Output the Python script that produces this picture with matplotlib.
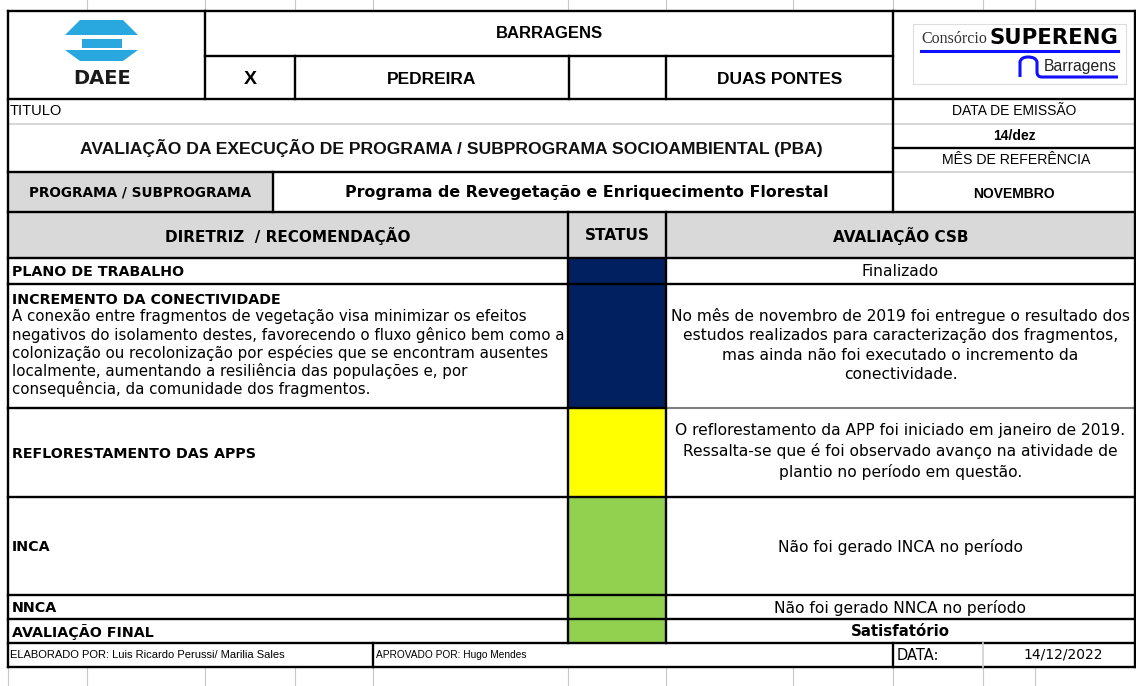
import matplotlib.pyplot as plt
from matplotlib.patches import Rectangle, Polygon
from matplotlib.path import Path
from matplotlib.patches import PathPatch

# ---- form content ----
obra = "BARRAGENS"
opcoes = ["X", "PEDREIRA", "", "DUAS PONTES"]
titulo = "AVALIAÇÃO DA EXECUÇÃO DE PROGRAMA / SUBPROGRAMA SOCIOAMBIENTAL (PBA)"
data_emissao = "14/dez"
mes_ref = "NOVEMBRO"
programa = "Programa de Revegetação e Enriquecimento Florestal"
cabecalho = ["DIRETRIZ  / RECOMENDAÇÃO", "STATUS", "AVALIAÇÃO CSB"]

diretrizes = ["PLANO DE TRABALHO", "INCREMENTO DA CONECTIVIDADE",
              "REFLORESTAMENTO DAS APPS", "INCA", "NNCA", "AVALIAÇÃO FINAL"]
descricao = ["A conexão entre fragmentos de vegetação visa minimizar os efeitos",
             "negativos do isolamento destes, favorecendo o fluxo gênico bem como a",
             "colonização ou recolonização por espécies que se encontram ausentes",
             "localmente, aumentando a resiliência das populações e, por",
             "consequência, da comunidade dos fragmentos."]
status_cores = ["#002060", "#002060", "#ffff00", "#92d050", "#92d050", "#92d050"]
avaliacoes = ["Finalizado",
              "No mês de novembro de 2019 foi entregue o resultado dos\n"
              "estudos realizados para caracterização dos fragmentos,\n"
              "mas ainda não foi executado o incremento da\nconectividade.",
              "O reflorestamento da APP foi iniciado em janeiro de 2019.\n"
              "Ressalta-se que é foi observado avanço na atividade de\n"
              "plantio no período em questão.",
              "Não foi gerado INCA no período",
              "Não foi gerado NNCA no período",
              "Satisfatório"]
elaborado = "ELABORADO POR: Luis Ricardo Perussi/ Marilia Sales"
aprovado = "APROVADO POR: Hugo Mendes"
data_final = "14/12/2022"

# ---- layout (pixels) ----
W, H = 1136, 686
L, R = 8, 1135
rows = [258, 284, 408, 497, 595, 619, 643]
cols = [L, 568, 666, R]
grade_x = [87, 205, 295, 373, 568, 666, 793, 893, 983, 1035]

ARIAL = "Liberation Sans"
VERD = "DejaVu Sans"
LW = 1.7
CINZA = "#d9d9d9"
LINHA_CLARA = "#d0d0d0"

fig = plt.figure(figsize=(W / 100, H / 100), dpi=100)
ax = fig.add_axes([0, 0, 1, 1])
ax.set_xlim(0, W)
ax.set_ylim(H, 0)
ax.axis("off")


def hl(y, x0, x1, c="black", lw=LW):
    ax.plot([x0, x1], [y, y], color=c, lw=lw, solid_capstyle="projecting")


def vl(x, y0, y1, c="black", lw=LW):
    ax.plot([x, x], [y0, y1], color=c, lw=lw, solid_capstyle="projecting")


def box(x0, y0, x1, y1, fc):
    ax.add_patch(Rectangle((x0, y0), x1 - x0, y1 - y0, fc=fc, ec="none"))


# spreadsheet gridlines outside the form
for gx in grade_x:
    vl(gx, 0, 9, c="#c8c8c8", lw=0.8)
    vl(gx, 668, H, c="#c8c8c8", lw=0.8)
vl(L, 668, H, c="#c8c8c8", lw=0.8)

# fills
box(L, 172, 273, 212, CINZA)
box(L, 212, R, 258, CINZA)
for i, c in enumerate(status_cores):
    box(cols[1], rows[i], cols[2], rows[i + 1], c)

# DAEE logo
azul = "#29a8e0"
ax.add_patch(Polygon([(80, 20), (123, 20), (138, 35), (65, 35)], fc=azul, ec="none"))
ax.add_patch(Rectangle((82, 38.5), 40, 9, fc=azul, ec="none"))
ax.add_patch(Polygon([(65, 50), (138, 50), (123, 61), (80, 61)], fc=azul, ec="none"))
ax.text(102, 78, "DAEE", ha="center", va="center", fontsize=14, fontweight="bold",
        family=VERD, color="#1a1a1a")

# SUPERENG logo
ax.add_patch(Rectangle((913, 24), 213, 60, fc="white", ec="#dddddd", lw=0.8))
ax.text(921, 39, "Consórcio", ha="left", va="center", fontsize=11.5, family="Liberation Serif",
        color="#333333")
ax.text(1118, 38, "SUPERENG", ha="right", va="center", fontsize=15.3, fontweight="heavy",
        family=VERD, color="black")
hl(51, 921, 1118, c="#1010ff", lw=2.2)
arco = Path([(1020, 77), (1020, 62), (1021, 57), (1028, 57), (1036, 57), (1037, 62),
             (1037, 72), (1037, 77), (1042, 77), (1118, 77)],
            [Path.MOVETO, Path.LINETO, Path.CURVE3, Path.CURVE3, Path.CURVE3, Path.CURVE3,
             Path.LINETO, Path.CURVE3, Path.CURVE3, Path.LINETO])
ax.add_patch(PathPatch(arco, fc="none", ec="#1010ff", lw=2.2))
ax.text(1117, 66, "Barragens", ha="right", va="center", fontsize=11.3, family=ARIAL,
        color="#222222")

# header lines
hl(11, L, R)
hl(56, 205, 893)
hl(99, L, R)
hl(124, L, R, c=LINHA_CLARA, lw=1.2)
hl(148, 893, R)
hl(172, L, 893)
hl(172, 893, R, c=LINHA_CLARA, lw=1.2)
hl(212, L, R)
vl(205, 11, 99)
vl(295, 56, 99)
vl(569, 56, 99)
vl(666, 56, 99)
vl(893, 11, 212)
vl(273, 172, 212)

# header texts
ax.text(549, 33, obra, ha="center", va="center", fontsize=12, fontweight="bold", family=ARIAL)
op_x = [250, 432, 617, 780]
for x, t in zip(op_x, opcoes):
    ax.text(x, 79, t, ha="center", va="center", fontweight="bold", family=ARIAL,
            fontsize=14 if t == "X" else 12.5)
ax.text(10, 111, "TITULO", ha="left", va="center", fontsize=10.5, family=ARIAL)
ax.text(1014, 111, "DATA DE EMISSÃO", ha="center", va="center", fontsize=10, family=ARIAL)
ax.text(451, 148, titulo, ha="center", va="center", fontsize=12.6, fontweight="bold",
        family=ARIAL, color="#111111")
ax.text(1014, 136, data_emissao, ha="center", va="center", fontsize=10, fontweight="bold",
        family=ARIAL)
ax.text(1016, 160, "MÊS DE REFERÊNCIA", ha="center", va="center", fontsize=10.2, family=ARIAL)
ax.text(140, 193, "PROGRAMA / SUBPROGRAMA", ha="center", va="center", fontsize=9.8,
        fontweight="bold", family=VERD)
ax.text(587, 193, programa, ha="center", va="center", fontsize=11.4, fontweight="bold",
        family=VERD)
ax.text(1014, 194, mes_ref, ha="center", va="center", fontsize=10, fontweight="bold",
        family=ARIAL)

# table header
for i, t in enumerate(cabecalho):
    ax.text((cols[i] + cols[i + 1]) / 2, 236, t, ha="center", va="center", fontsize=11,
            fontweight="bold", family=VERD)

# table rows
for i, nome in enumerate(diretrizes):
    y0, y1 = rows[i], rows[i + 1]
    ym = (y0 + y1) / 2
    if i == 1:
        ax.text(12, 300, nome, ha="left", va="center", fontsize=10.3, fontweight="bold",
                family=VERD)
        for k, linha in enumerate(descricao):
            ax.text(12, 317 + 18 * k, linha, ha="left", va="center", fontsize=10.8,
                    family=VERD)
    else:
        ax.text(12, ym + 1, nome, ha="left", va="center", fontsize=10.3, fontweight="bold",
                family=VERD)
    ultimo = i == len(diretrizes) - 1
    multi = "\n" in avaliacoes[i]
    ax.text((cols[2] + cols[3]) / 2, ym - 1 if multi else ym + 1, avaliacoes[i],
            ha="center", va="center", fontsize=10.8 if ultimo else 11.2, family=VERD,
            linespacing=1.36, fontweight="bold" if ultimo else "normal")

for i, y in enumerate(rows):
    if y == 408:
        hl(y, L, cols[2])
        hl(y, cols[2], R, c="#7f7f7f", lw=1.5)
    else:
        hl(y, L, R)
vl(cols[1], 212, 643)
vl(cols[2], 212, 643)

# footer
hl(667, L, R)
vl(373, 643, 667)
vl(893, 643, 667)
vl(983, 643, 667, c=LINHA_CLARA, lw=1.2)
ax.text(10, 655, elaborado, ha="left", va="center", fontsize=8, family=ARIAL)
ax.text(376, 655, aprovado, ha="left", va="center", fontsize=7.3, family=ARIAL)
ax.text(897, 656, "DATA:", ha="left", va="center", fontsize=10.5, family=VERD)
ax.text(1063, 655, data_final, ha="center", va="center", fontsize=10, family=VERD)

# outer border
vl(L, 11, 667)
vl(R, 11, 667)

fig.savefig("out.png", dpi=100)
